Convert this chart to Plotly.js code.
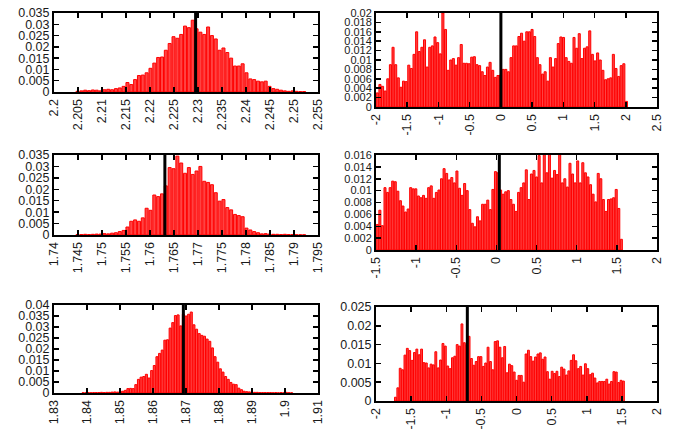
<!DOCTYPE html>
<html>
<head>
<meta charset="utf-8">
<script src="https://cdn.plot.ly/plotly-3.0.1.min.js"></script>
<style>
  html, body { margin: 0; padding: 0; background: #ffffff; }
  #chart { width: 675px; height: 429px; }
</style>
</head>
<body>
<div id="chart"></div>
<script>
// Histogram densities per panel (bin start, bin width, densities)
const p1Start = 2.2045, p1Width = 0.0008;
const p1Density = [0.0003,0.0005,0.0008,0.0006,0.0009,0.0008,0.0005,0.001,0.0012,0.001,
  0.0015,0.0018,0.0025,0.0042,0.0033,0.0055,0.0073,0.0075,0.0085,0.0105,
  0.0128,0.0153,0.0155,0.0185,0.0215,0.0245,0.0238,0.0255,0.0292,0.0285,
  0.0318,0.028,0.0265,0.0255,0.0288,0.025,0.0235,0.0185,0.0195,0.0175,
  0.015,0.0115,0.0115,0.0125,0.0085,0.0058,0.0055,0.0048,0.0045,0.0048,
  0.0025,0.0015,0.0012,0.0008,0.0005,0.0003,0.0005,0.0003,0.0002,0.0002];

const p2Start = -2.0, p2Width = 0.042;
const p2Density = [0.003,0.0048,0.0044,0.0034,0.006,0.009,0.0127,0.009,0.0062,0.0042,
  0.0055,0.0054,0.0089,0.0082,0.0112,0.016,0.0118,0.0127,0.0143,0.0085,
  0.0127,0.013,0.0149,0.0137,0.0113,0.02,0.0165,0.0078,0.01,0.0103,
  0.0089,0.0105,0.0133,0.0093,0.0093,0.0092,0.0106,0.0107,0.009,0.0088,
  0.0075,0.0067,0.0085,0.0095,0.0078,0.0063,0.0067,0.0068,
  0.008,0.008,0.0075,0.0105,0.013,0.013,0.015,0.0157,0.014,0.016,
  0.016,0.0165,0.015,0.0105,0.009,0.007,0.0075,0.0055,0.0105,0.0085,
  0.0103,0.0135,0.0149,0.0148,0.0105,0.0097,0.0093,0.0148,0.0125,0.0156,
  0.0103,0.0125,0.0128,0.0162,0.0112,0.0098,0.0115,0.01,0.0078,0.0058,
  0.006,0.0062,0.0112,0.0082,0.0065,0.0088,0.0092,0.0012];

const p3Start = 1.7445, p3Width = 0.0008;
const p3Density = [0.0002,0.0002,0.0003,0.0002,0.0003,0.0004,0.0004,0.0006,0.0005,0.0008,
  0.001,0.0015,0.002,0.0035,0.006,0.0066,0.006,0.0075,0.0117,0.0108,
  0.0175,0.0168,0.018,0.0215,0.0295,0.029,0.0345,0.0315,0.027,0.0295,
  0.0265,0.028,0.03,0.0235,0.023,0.022,0.0185,0.0148,0.0155,0.012,
  0.011,0.009,0.0085,0.008,0.003,0.0022,0.0015,0.001,0.0005,0.0006,
  0.0004,0.0003,0.0003,0.0002,0.0003,0.0002,0.0002,0.0001,0.0001,0.0001];

const p4Start = -1.5, p4Width = 0.032;
const p4Density = [0.0043,0.0067,0.0041,0.0105,0.0097,0.0105,0.0116,0.0115,0.0099,0.0083,
  0.0074,0.0064,0.0069,0.0105,0.0103,0.0103,0.0091,0.0088,0.0092,0.0087,
  0.0105,0.0108,0.0087,0.0097,0.0101,0.012,0.0137,0.0129,0.0118,0.0122,
  0.0113,0.0133,0.0104,0.0092,0.0112,0.01,0.0068,0.0045,0.0039,0.0056,
  0.0049,0.0077,0.0077,0.0084,0.0068,0.0102,0.0132,0.013,
  0.0101,0.0094,0.0098,0.01,0.0085,0.0077,0.0065,0.0097,0.0105,0.0113,
  0.0135,0.0085,0.0128,0.0134,0.0123,0.0159,0.0113,0.0162,0.013,0.0161,
  0.0121,0.0134,0.0127,0.0163,0.0113,0.012,0.0106,0.0146,0.0128,0.0113,
  0.015,0.0113,0.0147,0.013,0.0123,0.011,0.0094,0.0081,0.0129,0.012,
  0.0085,0.0065,0.0085,0.0086,0.0088,0.0102,0.007,0.0018];

const p5Start = 1.8384, p5Width = 0.0008;
const p5Density = [0.0001,0.0001,0.0002,0.0001,0.0002,0.0002,0.0002,0.0003,0.0002,0.0003,
  0.0003,0.0004,0.0005,0.0004,0.0006,0.0008,0.0012,0.002,0.0021,0.002,
  0.0038,0.0062,0.0072,0.0075,0.0085,0.0068,0.0102,0.0125,0.0165,0.018,
  0.0195,0.024,0.0242,0.0295,0.032,0.0352,0.0355,0.0305,0.0358,0.035,
  0.0358,0.0368,0.031,0.029,0.027,0.0262,0.0258,0.0245,0.0235,0.0205,
  0.0165,0.014,0.011,0.0095,0.0075,0.0062,0.0048,0.004,0.0038,0.0022,
  0.0015,0.0008,0.0006,0.0005,0.0004,0.0003,0.0003,0.0002,0.0002,0.0002,
  0.0002,0.0002,0.0001,0.0002,0.0001,0.0002,0.0001,0.0003,0.0001,0.0001];

const p6Start = -1.74, p6Width = 0.0338;
const p6Density = [0.001,0.0035,0.0087,0.0083,0.0122,0.014,0.0134,0.0108,0.0129,0.0138,
  0.0123,0.0138,0.0102,0.0101,0.0088,0.0098,0.0096,0.0131,0.0088,0.0109,
  0.0153,0.0146,0.0093,0.0086,0.0115,0.0119,0.015,0.0146,0.0205,0.0155,
  0.015,0.0172,0.0113,0.0095,0.0105,0.0118,0.0118,0.0092,0.0101,0.0143,
  0.0105,0.0083,0.0158,0.016,0.0143,0.0115,0.0145,0.0075,0.0098,0.0094,
  0.0077,0.0055,0.0068,0.0068,0.005,0.0125,0.0135,0.0118,0.0106,0.0117,
  0.0125,0.0128,0.0111,0.0117,0.0078,0.0058,0.0079,0.0073,0.0079,0.0065,
  0.009,0.0085,0.0069,0.008,0.0108,0.0123,0.0107,0.0086,0.0092,0.0069,
  0.0099,0.0086,0.007,0.0074,0.0061,0.0048,0.0052,0.0052,0.0052,0.0058,
  0.0045,0.0052,0.0078,0.0077,0.0049,0.0055,0.0053];

// Reference value marked by the black vertical line in each panel
const refValues = [2.2295, 0.0, 1.7631, 0.036, 1.8692, -0.7];

// Axis ranges and tick labels
const xRanges = [[2.2, 2.255], [-2, 2.5], [1.74, 1.795], [-1.5, 2], [1.83, 1.91], [-2, 2]];
const yRanges = [[0, 0.035], [0, 0.02], [0, 0.035], [0, 0.016], [0, 0.04], [0, 0.025]];

const xTicks1 = ['2.2','2.205','2.21','2.215','2.22','2.225','2.23','2.235','2.24','2.245','2.25','2.255'];
const xTicks2 = ['-2','-1.5','-1','-0.5','0','0.5','1','1.5','2','2.5'];
const xTicks3 = ['1.74','1.745','1.75','1.755','1.76','1.765','1.77','1.775','1.78','1.785','1.79','1.795'];
const xTicks4 = ['-1.5','-1','-0.5','0','0.5','1','1.5','2'];
const xTicks5 = ['1.83','1.84','1.85','1.86','1.87','1.88','1.89','1.9','1.91'];
const xTicks6 = ['-2','-1.5','-1','-0.5','0','0.5','1','1.5','2'];

const yTicks1 = ['0','0.005','0.01','0.015','0.02','0.025','0.03','0.035'];
const yTicks2 = ['0','0.002','0.004','0.006','0.008','0.01','0.012','0.014','0.016','0.018','0.02'];
const yTicks3 = ['0','0.005','0.01','0.015','0.02','0.025','0.03','0.035'];
const yTicks4 = ['0','0.002','0.004','0.006','0.008','0.01','0.012','0.014','0.016'];
const yTicks5 = ['0','0.005','0.01','0.015','0.02','0.025','0.03','0.035','0.04'];
const yTicks6 = ['0','0.005','0.01','0.015','0.02','0.025'];

const panels = [
  {start: p1Start, width: p1Width, dens: p1Density, xt: xTicks1, yt: yTicks1, yfs: 12.5},
  {start: p2Start, width: p2Width, dens: p2Density, xt: xTicks2, yt: yTicks2, yfs: 11},
  {start: p3Start, width: p3Width, dens: p3Density, xt: xTicks3, yt: yTicks3, yfs: 12.5},
  {start: p4Start, width: p4Width, dens: p4Density, xt: xTicks4, yt: yTicks4, yfs: 11},
  {start: p5Start, width: p5Width, dens: p5Density, xt: xTicks5, yt: yTicks5, yfs: 12.5},
  {start: p6Start, width: p6Width, dens: p6Density, xt: xTicks6, yt: yTicks6, yfs: 12.5}
];

// Plot-area placement in pixels: [left, right, top, bottom]
const W = 675, H = 429;
const boxes = [
  [54, 318, 13, 92], [376, 657, 13, 107],
  [54, 318, 155, 235], [376, 657, 155, 250],
  [54, 318, 305, 393], [376, 657, 307, 401]
];

const fontFamily = 'Liberation Sans, Arial, Helvetica, sans-serif';
const textColor = '#1a1a1a';
const traces = [];
const layout = {
  width: W, height: H,
  margin: {l: 0, r: 0, t: 0, b: 0},
  paper_bgcolor: '#ffffff', plot_bgcolor: '#ffffff',
  showlegend: false,
  bargap: 0.22,
  font: {family: fontFamily, size: 12.5, color: textColor},
  shapes: []
};

panels.forEach((p, i) => {
  const n = i + 1;
  const xa = n === 1 ? 'x' : 'x' + n;
  const ya = n === 1 ? 'y' : 'y' + n;
  traces.push({
    type: 'bar',
    x0: p.start + p.width / 2,
    dx: p.width,
    y: p.dens,
    xaxis: xa, yaxis: ya,
    marker: {color: 'rgba(255,20,20,0.8)', line: {color: 'rgb(255,0,0)', width: 1}},
    hoverinfo: 'skip'
  });
  const b = boxes[i];
  const common = {
    showgrid: false, zeroline: false,
    showline: true, linecolor: '#000', linewidth: 2, mirror: 'ticks',
    ticks: 'inside', ticklen: 5, tickwidth: 1.5, tickcolor: '#000',
    fixedrange: true
  };
  layout['xaxis' + (n === 1 ? '' : n)] = Object.assign({}, common, {
    domain: [b[0] / W, b[1] / W],
    range: xRanges[i],
    anchor: ya,
    tickmode: 'array',
    tickvals: p.xt.map(Number),
    ticktext: p.xt,
    tickangle: -90,
    tickfont: {family: fontFamily, size: 12.5, color: textColor}
  });
  layout['yaxis' + (n === 1 ? '' : n)] = Object.assign({}, common, {
    domain: [1 - b[3] / H, 1 - b[2] / H],
    range: yRanges[i],
    anchor: xa,
    tickmode: 'array',
    tickvals: p.yt.map(Number),
    ticktext: p.yt,
    tickfont: {family: fontFamily, size: p.yfs, color: textColor}
  });
  layout.shapes.push({
    type: 'line', xref: xa, yref: ya + ' domain',
    x0: refValues[i], x1: refValues[i], y0: 0, y1: 1,
    line: {color: '#000', width: 3}
  });
});

Plotly.newPlot('chart', traces, layout, {staticPlot: true, displayModeBar: false});
</script>
</body>
</html>
